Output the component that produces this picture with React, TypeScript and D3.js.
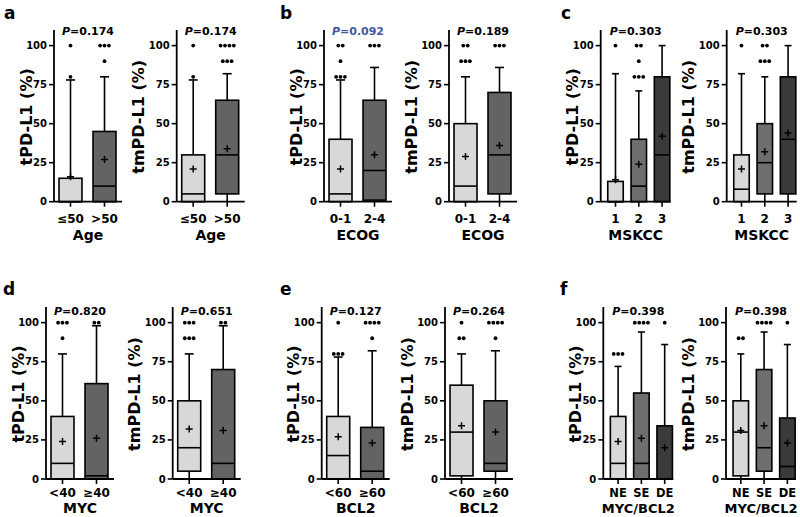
import React from "react";
import * as d3 from "d3";

// group names
const ageGroups = ["≤50", ">50"];
const ecogGroups = ["0-1", "2-4"];
const mskccGroups = ["1", "2", "3"];
const mycGroups = ["<40", "≥40"];
const bcl2Groups = ["<60", "≥60"];
const mbGroups = ["NE", "SE", "DE"];

// box stats per group: [min, q1, median, q3, max, mean]
const tAge = [[0, 0, 0, 15, 78, 16], [0, 0, 10, 45, 80, 27]];
const tmAge = [[0, 0, 5, 30, 78, 21], [0, 5, 30, 65, 82, 34]];
const tEcog = [[0, 0, 5, 40, 78, 21], [0, 1, 20, 65, 86, 30]];
const tmEcog = [[0, 0, 10, 50, 80, 29], [0, 5, 30, 70, 86, 36]];
const tMskcc = [[0, 0, 0, 13, 82, 14], [0, 0, 10, 40, 71, 24], [0, 0, 30, 80, 100, 42]];
const tmMskcc = [[0, 0, 8, 30, 82, 21], [0, 5, 25, 50, 80, 32], [0, 5, 40, 80, 100, 44]];
const tMyc = [[0, 0, 10, 40, 80, 24], [0, 0, 2, 61, 98, 26]];
const tmMyc = [[0, 5, 20, 50, 80, 32], [0, 0, 10, 70, 98, 31]];
const tBcl2 = [[0, 0, 15, 40, 78, 27], [0, 0, 5, 33, 82, 23]];
const tmBcl2 = [[0, 2, 30, 60, 80, 34], [0, 5, 10, 50, 82, 30]];
const tMb = [[0, 0, 10, 40, 72, 24], [0, 0, 10, 55, 94, 26], [0, 0, 0, 34, 86, 20]];
const tmMb = [[0, 2, 30, 50, 80, 31], [0, 5, 20, 70, 94, 34], [0, 0, 8, 39, 86, 23]];

// outliers per group
const tAgeOut = [[80, 100], [90, 100, 100, 100]];
const tmAgeOut = [[80, 100], [90, 90, 90, 100, 100, 100, 100]];
const tEcogOut = [[80, 80, 80, 90, 100, 100], [100, 100, 100]];
const tmEcogOut = [[90, 90, 90, 100, 100], [100, 100, 100]];
const tMskccOut = [[100], [80, 80, 80, 90, 100, 100], []];
const tmMskccOut = [[100], [90, 90, 90, 100, 100], []];
const tMycOut = [[90, 100, 100, 100], [100, 100]];
const tmMycOut = [[90, 90, 90, 100, 100, 100], [100, 100]];
const tBcl2Out = [[80, 80, 80, 100], [90, 100, 100, 100, 100]];
const tmBcl2Out = [[90, 90, 100], [90, 100, 100, 100, 100]];
const tMbOut = [[80, 80, 80], [100, 100, 100, 100], [100]];
const tmMbOut = [[90, 90], [100, 100, 100, 100], [100]];

const pValues = ["0.174", "0.174", "0.092", "0.189", "0.303", "0.303", "0.820", "0.651", "0.127", "0.264", "0.398", "0.398"];
const yTicks = [0, 25, 50, 75, 100];

const FONT = "DejaVu Sans";
const LIGHT = "#d8d8d8";
const DARK2 = "#636363";
const MID3 = "#6e6e6e";
const DARK3 = "#3a3a3a";

const rows = [
  { y0: 201.7, yTop: 30, pY: 35, tickY: 21, titleY: 38 },
  { y0: 479, yTop: 307, pY: 315, tickY: 18, titleY: 34 },
];

type Panel = {
  letter?: string;
  letterX?: number;
  groups: string[];
  stats: number[][];
  out: number[][];
  yLabel: string;
  xTitle: string;
  p: string;
  pColor?: string;
  x0: number;
  row: number;
};

const panels: Panel[] = [
  { letter: "a", letterX: 4, groups: ageGroups, stats: tAge, out: tAgeOut, yLabel: "tPD-L1 (%)", xTitle: "Age", p: pValues[0], x0: 54, row: 0 },
  { groups: ageGroups, stats: tmAge, out: tmAgeOut, yLabel: "tmPD-L1 (%)", xTitle: "Age", p: pValues[1], x0: 176.7, row: 0 },
  { letter: "b", letterX: 280, groups: ecogGroups, stats: tEcog, out: tEcogOut, yLabel: "tPD-L1 (%)", xTitle: "ECOG", p: pValues[2], pColor: "#4358a3", x0: 324, row: 0 },
  { groups: ecogGroups, stats: tmEcog, out: tmEcogOut, yLabel: "tmPD-L1 (%)", xTitle: "ECOG", p: pValues[3], x0: 449, row: 0 },
  { letter: "c", letterX: 561, groups: mskccGroups, stats: tMskcc, out: tMskccOut, yLabel: "tPD-L1 (%)", xTitle: "MSKCC", p: pValues[4], x0: 600.7, row: 0 },
  { groups: mskccGroups, stats: tmMskcc, out: tmMskccOut, yLabel: "tmPD-L1 (%)", xTitle: "MSKCC", p: pValues[5], x0: 726.7, row: 0 },
  { letter: "d", letterX: 3, groups: mycGroups, stats: tMyc, out: tMycOut, yLabel: "tPD-L1 (%)", xTitle: "MYC", p: pValues[6], x0: 46, row: 1 },
  { groups: mycGroups, stats: tmMyc, out: tmMycOut, yLabel: "tmPD-L1 (%)", xTitle: "MYC", p: pValues[7], x0: 172.7, row: 1 },
  { letter: "e", letterX: 280, groups: bcl2Groups, stats: tBcl2, out: tBcl2Out, yLabel: "tPD-L1 (%)", xTitle: "BCL2", p: pValues[8], x0: 321.7, row: 1 },
  { groups: bcl2Groups, stats: tmBcl2, out: tmBcl2Out, yLabel: "tmPD-L1 (%)", xTitle: "BCL2", p: pValues[9], x0: 445, row: 1 },
  { letter: "f", letterX: 560, groups: mbGroups, stats: tMb, out: tMbOut, yLabel: "tPD-L1 (%)", xTitle: "MYC/BCL2", p: pValues[10], x0: 603.3, row: 1 },
  { groups: mbGroups, stats: tmMb, out: tmMbOut, yLabel: "tmPD-L1 (%)", xTitle: "MYC/BCL2", p: pValues[11], x0: 726, row: 1 },
];

function BoxPanel({ pn }: { pn: Panel }) {
  const r = rows[pn.row];
  const three = pn.groups.length === 3;
  const w = three ? 70 : 68;
  const x = d3
    .scaleBand<string>()
    .domain(pn.groups)
    .range([pn.x0, pn.x0 + w])
    .paddingInner(three ? 0.335 : 0.324)
    .paddingOuter(three ? 0.17 : 0.162)
    .align(three ? 0.89 : 0.455);
  const y = d3.scaleLinear().domain([0, 110]).range([r.y0, r.yTop]);
  const bw = x.bandwidth();
  const fills = three ? [LIGHT, MID3, DARK3] : [LIGHT, DARK2];
  const capW = three ? 7 : 9;
  const labOff = pn.yLabel.startsWith("tm") ? 38 : 28;
  const tickFont = three && pn.row === 1 ? 11.5 : 12;
  const titleFont = pn.row === 1 && three ? 13 : 14;

  return (
    <g>
      {pn.letter && (
        <text x={pn.letterX} y={pn.row === 0 ? 19 : 295} fontFamily={FONT} fontWeight="bold" fontSize={17}>
          {pn.letter}
        </text>
      )}
      {/* y title */}
      <text
        transform={`translate(${pn.x0 - labOff},${(r.y0 + r.yTop) / 2 + 1}) rotate(-90)`}
        textAnchor="middle"
        dominantBaseline="central"
        fontFamily={FONT}
        fontWeight="bold"
        fontSize={16}
      >
        {pn.yLabel}
      </text>
      {/* boxes */}
      {pn.groups.map((g, i) => {
        const [mn, q1, md, q3, mx, mean] = pn.stats[i];
        const cx = (x(g) as number) + bw / 2;
        const counts = d3.rollup(pn.out[i], (v) => v.length, (d) => d);
        return (
          <g key={g}>
            <line x1={cx} x2={cx} y1={y(q3)} y2={y(mx)} stroke="#000" strokeWidth={1.6} />
            <line x1={cx - capW / 2} x2={cx + capW / 2} y1={y(mx)} y2={y(mx)} stroke="#000" strokeWidth={1.6} />
            {q1 > mn && <line x1={cx} x2={cx} y1={y(q1)} y2={y(mn)} stroke="#000" strokeWidth={1.6} />}
            <rect x={x(g)} y={y(q3)} width={bw} height={y(q1) - y(q3)} fill={fills[i]} stroke="#000" strokeWidth={1.6} />
            <line x1={x(g)} x2={(x(g) as number) + bw} y1={y(md)} y2={y(md)} stroke="#000" strokeWidth={1.6} />
            <path
              d={`M${cx - 3.5},${y(mean)}H${cx + 3.5}M${cx},${y(mean) - 3.5}V${y(mean) + 3.5}`}
              stroke="#000"
              strokeWidth={1.5}
            />
            {Array.from(counts).map(([v, k]) =>
              d3.range(k).map((j) => (
                <circle key={`${v}-${j}`} cx={cx + (j - (k - 1) / 2) * 4.4} cy={y(v)} r={1.9} fill="#000" />
              ))
            )}
          </g>
        );
      })}
      {/* y axis */}
      <line x1={pn.x0} x2={pn.x0} y1={y(0)} y2={y(110)} stroke="#000" strokeWidth={1.8} />
      {yTicks.map((t) => (
        <g key={t}>
          <line x1={pn.x0 - 5} x2={pn.x0} y1={y(t)} y2={y(t)} stroke="#000" strokeWidth={1.6} />
          <text
            x={pn.x0 - 7}
            y={y(t)}
            textAnchor="end"
            dominantBaseline="central"
            fontFamily={FONT}
            fontWeight="bold"
            fontSize={10}
          >
            {t}
          </text>
        </g>
      ))}
      {/* x axis */}
      <line x1={pn.x0} x2={pn.x0 + w} y1={r.y0} y2={r.y0} stroke="#000" strokeWidth={1.8} />
      {pn.groups.map((g) => {
        const cx = (x(g) as number) + bw / 2;
        return (
          <g key={g}>
            <line x1={cx} x2={cx} y1={r.y0} y2={r.y0 + 5} stroke="#000" strokeWidth={1.6} />
            <text x={cx} y={r.y0 + r.tickY} textAnchor="middle" fontFamily={FONT} fontWeight="bold" fontSize={tickFont}>
              {g}
            </text>
          </g>
        );
      })}
      <text x={pn.x0 + w / 2} y={r.y0 + r.titleY} textAnchor="middle" fontFamily={FONT} fontWeight="bold" fontSize={titleFont}>
        {pn.xTitle}
      </text>
      <text
        x={pn.x0 + w / 2}
        y={r.pY}
        textAnchor="middle"
        fontFamily={FONT}
        fontWeight="bold"
        fontSize={11}
        fill={pn.pColor || "#000"}
      >
        <tspan fontStyle="italic">P</tspan>={pn.p}
      </text>
    </g>
  );
}

export default function App() {
  return (
    <svg
      width={800}
      height={517}
      style={{ position: "absolute", left: 0, top: 0, background: "#fff" }}
    >
      {panels.map((pn, i) => (
        <BoxPanel key={i} pn={pn} />
      ))}
    </svg>
  );
}
